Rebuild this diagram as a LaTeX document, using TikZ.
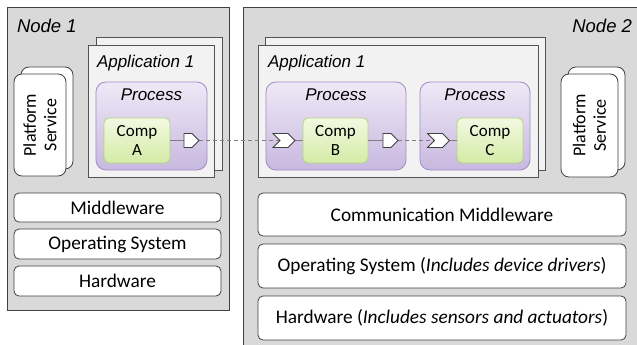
\documentclass[tikz,border=0pt]{standalone}
\usepackage{fontspec}
\setmainfont{Carlito}
\newfontfamily\arialf{Liberation Sans}
\definecolor{nodegrey}{HTML}{D9D9D9}
\definecolor{appgrey}{HTML}{F2F2F2}
\definecolor{edgedark}{HTML}{404040}
\definecolor{proctop}{HTML}{EEE9F6}
\definecolor{procbot}{HTML}{C8B8E0}
\definecolor{procedge}{HTML}{A08CC6}
\definecolor{comptop}{HTML}{F3F9E2}
\definecolor{compbot}{HTML}{D3EBA6}
\definecolor{compedge}{HTML}{B2D57E}
\definecolor{connc}{HTML}{7F7F7F}
\begin{document}
\begin{tikzpicture}[x=1pt,y=-1pt,
  every node/.style={inner sep=0pt, outer sep=0pt},
  box/.style={anchor=north west},
  nodebox/.style={box, draw=edgedark, fill=nodegrey, line width=0.9pt},
  appbox/.style={box, draw=edgedark!90, fill=appgrey, line width=0.8pt},
  procbox/.style={box, draw=procedge, rounded corners=10pt, top color=proctop, bottom color=procbot, line width=0.8pt},
  compbox/.style={box, draw=compedge, rounded corners=5pt, top color=comptop, bottom color=compbot, line width=0.8pt, align=center, font=\fontsize{17}{19.5}\selectfont},
  layerbox/.style={box, draw=edgedark, fill=white, rounded corners=5pt, line width=0.8pt, font=\fontsize{19.3}{22}\selectfont},
  psbox/.style={box, draw=edgedark, fill=white, rounded corners=8pt, line width=0.8pt},
  pstext/.style={rotate=90, align=center, font=\fontsize{18}{20.5}\selectfont},
  biglbl/.style={font=\arialf\itshape\fontsize{18.5}{21}\selectfont},
  lbl/.style={font=\arialf\itshape\fontsize{17}{20}\selectfont},
  portbox/.style={minimum height=14pt},
  portline/.style={draw=edgedark, fill=white, line width=0.8pt, line join=miter},
  conn/.style={draw=connc, line width=0.9pt},
  dconn/.style={draw=connc, line width=0.9pt, dash pattern=on 4pt off 3pt}
]
\useasboundingbox (0,0) rectangle (637,345);
\clip (0,0) rectangle (637,345);
% Node 1
\node[nodebox, minimum width=222pt, minimum height=303pt] (n1) at (7,7) {};
\node[biglbl, anchor=base west] (n1lbl) at (17,33) {Node 1};
% Node 2
\node[nodebox, minimum width=420pt, minimum height=360pt] (n2) at (243,7) {};
\node[biglbl, anchor=base east] (n2lbl) at (632,33) {Node 2};
% Platform services
\node[psbox, minimum width=52pt, minimum height=102pt] (ps1b) at (21,67) {};
\node[psbox, minimum width=52pt, minimum height=102pt] (ps1) at (14,74) {};
\node[pstext] (ps1t) at (ps1.center) {Platform\\Service};
\node[psbox, minimum width=57pt, minimum height=103pt] (ps2b) at (568,67) {};
\node[psbox, minimum width=57pt, minimum height=103pt] (ps2) at (561,74) {};
\node[pstext] (ps2t) at (ps2.center) {Platform\\Service};
% Applications
\node[appbox, minimum width=126pt, minimum height=133pt] (a1b) at (96,37) {};
\node[appbox, minimum width=126pt, minimum height=132pt] (a1) at (88,45) {};
\node[lbl, anchor=base west] (a1lbl) at (97,67) {Application 1};
\node[appbox, minimum width=280pt, minimum height=133pt] (a2b) at (265,37) {};
\node[appbox, minimum width=280pt, minimum height=132pt] (a2) at (258,45) {};
\node[lbl, anchor=base west] (a2lbl) at (268,67) {Application 1};
% Processes
\node[procbox, minimum width=111pt, minimum height=88pt] (p1) at (96,82) {};
\node[lbl, anchor=base] (p1lbl) at (151.5,100) {Process};
\node[procbox, minimum width=140pt, minimum height=88pt] (p2) at (266,82) {};
\node[lbl, anchor=base] (p2lbl) at (336,100) {Process};
\node[procbox, minimum width=110pt, minimum height=88pt] (p3) at (420,82) {};
\node[lbl, anchor=base] (p3lbl) at (475,100) {Process};
% Components
\node[compbox, minimum width=66pt, minimum height=45pt] (ca) at (104,118) {Comp\\A};
\node[compbox, minimum width=65pt, minimum height=45pt] (cb) at (303,118) {Comp\\B};
\node[compbox, minimum width=66pt, minimum height=45pt] (cc) at (457,118) {Comp\\C};
% Port anchors
\node[portbox, minimum width=15pt] (pa) at (191.5,140.5) {};
\node[portbox, minimum width=22pt] (ib) at (284,140.5) {};
\node[portbox, minimum width=15pt] (pb) at (390.5,140.5) {};
\node[portbox, minimum width=22pt] (ic) at (438.5,140.5) {};
% Connectors
\draw[conn] (ca.east) -- (pa.west);
\draw[dconn] (pa.east) -- ([xshift=7pt]ib.west);
\draw[conn] (ib.east) -- (cb.west);
\draw[conn] (cb.east) -- (pb.west);
\draw[dconn] (pb.east) -- ([xshift=7pt]ic.west);
\draw[conn] (ic.east) -- (cc.west);
% Port shapes
\foreach \p in {pa,pb}{
  \path[portline] (\p.north west) -- ([xshift=-7pt]\p.north east) -- (\p.east) -- ([xshift=-7pt]\p.south east) -- (\p.south west) -- cycle;
}
\foreach \p in {ib,ic}{
  \path[portline] (\p.north west) -- ([xshift=-7pt]\p.north east) -- (\p.east) -- ([xshift=-7pt]\p.south east) -- (\p.south west) -- ([xshift=7pt]\p.west) -- cycle;
}
% Layers
\node[layerbox, minimum width=207pt, minimum height=29pt] (mw1) at (14,193) {Middleware};
\node[layerbox, minimum width=207pt, minimum height=30pt] (os1) at (14,229) {Operating System};
\node[layerbox, minimum width=207pt, minimum height=30pt] (hw1) at (14,266) {Hardware};
\node[layerbox, minimum width=368pt, minimum height=43pt] (mw2) at (258,193) {Communication Middleware};
\node[layerbox, minimum width=368pt, minimum height=44pt] (os2) at (258,244) {Operating System (\textit{Includes device drivers})};
\node[layerbox, minimum width=368pt, minimum height=44pt] (hw2) at (258,296) {Hardware (\textit{Includes sensors and actuators})};
\end{tikzpicture}
\end{document}
